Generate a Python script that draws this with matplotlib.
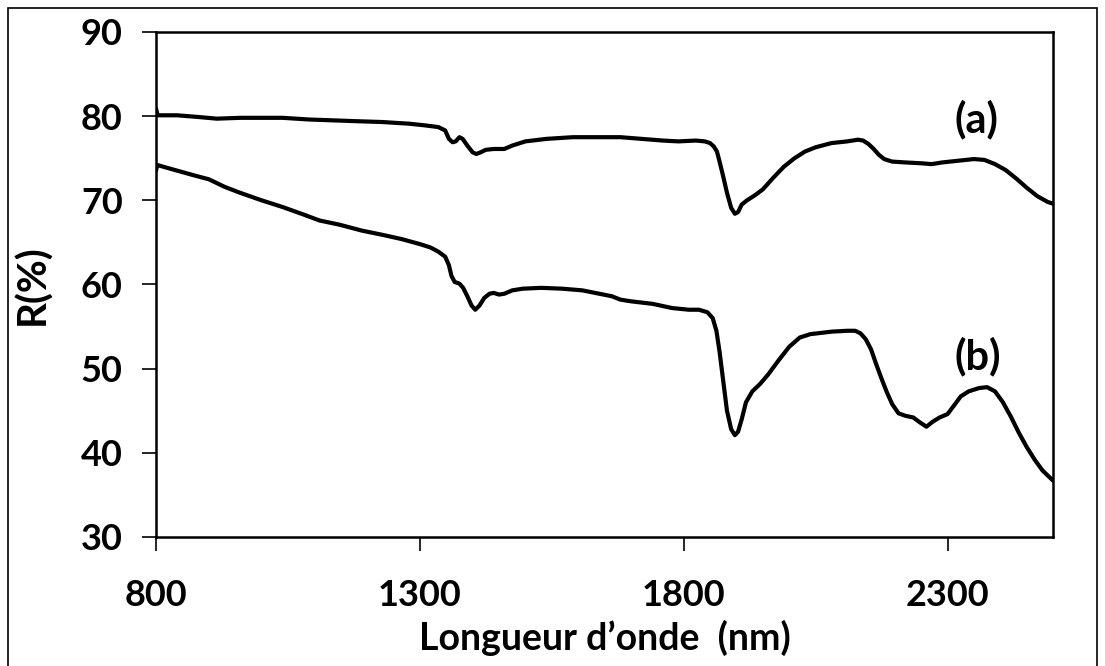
import matplotlib
matplotlib.use("Agg")
import matplotlib.pyplot as plt
from matplotlib.patches import Rectangle

plt.rcParams['font.family'] = ['Lato', 'DejaVu Sans']
plt.rcParams['font.weight'] = 'bold'

# spectrum (a)
wl_a = [800, 803, 840, 880, 915, 960, 1000, 1040, 1090, 1135, 1180, 1229, 1280, 1310,
        1335, 1348, 1355, 1362, 1368, 1375, 1381, 1390, 1400, 1407, 1415, 1425, 1440,
        1460, 1475, 1500, 1540, 1590, 1634, 1680, 1720, 1760, 1790, 1823, 1840, 1850,
        1857, 1863, 1868, 1875, 1882, 1890, 1897, 1903, 1910, 1920, 1935, 1950, 1970,
        1990, 2010, 2030, 2050, 2080, 2110, 2130, 2140, 2150, 2160, 2170, 2180, 2195,
        2220, 2250, 2270, 2290, 2320, 2350, 2370, 2390, 2410, 2430, 2450, 2470, 2490, 2500]
r_a = [80.9, 80.1, 80.1, 79.9, 79.7, 79.8, 79.8, 79.8, 79.6, 79.5, 79.4, 79.3, 79.1, 78.9,
       78.7, 78.3, 77.3, 76.9, 77.0, 77.5, 77.3, 76.5, 75.7, 75.5, 75.7, 76.0, 76.1,
       76.1, 76.5, 77.0, 77.3, 77.5, 77.5, 77.5, 77.3, 77.1, 77.0, 77.1, 77.0, 76.8,
       76.4, 75.8, 74.6, 72.8, 70.9, 69.1, 68.4, 68.6, 69.5, 70.0, 70.6, 71.3, 72.7,
       74.0, 75.0, 75.8, 76.3, 76.8, 77.0, 77.2, 77.1, 76.7, 76.1, 75.4, 74.9, 74.6,
       74.5, 74.4, 74.3, 74.5, 74.7, 74.9, 74.8, 74.3, 73.6, 72.6, 71.5, 70.5, 69.8, 69.6]

# spectrum (b)
wl_b = [800, 802, 830, 870, 900, 930, 959, 1000, 1040, 1080, 1110, 1148, 1190, 1229,
        1265, 1300, 1320, 1335, 1348, 1355, 1360, 1366, 1375, 1382, 1390, 1398, 1405,
        1413, 1422, 1432, 1440, 1450, 1460, 1475, 1495, 1530, 1570, 1608, 1640, 1664,
        1680, 1700, 1741, 1778, 1810, 1829, 1845, 1855, 1862, 1868, 1875, 1882, 1890,
        1897, 1903, 1910, 1918, 1930, 1945, 1960, 1980, 2000, 2020, 2040, 2081, 2110,
        2125, 2135, 2145, 2155, 2165, 2175, 2185, 2195, 2207, 2220, 2235, 2248, 2260,
        2272, 2285, 2300, 2312, 2325, 2340, 2360, 2375, 2390, 2405, 2420, 2435, 2450,
        2465, 2480, 2500]
r_b = [73.5, 74.2, 73.7, 73.0, 72.5, 71.6, 70.9, 70.0, 69.2, 68.3, 67.6, 67.1, 66.4, 65.9,
       65.4, 64.8, 64.4, 63.9, 63.3, 62.3, 61.0, 60.3, 60.1, 59.6, 58.6, 57.5, 57.0,
       57.5, 58.4, 58.9, 59.0, 58.8, 58.9, 59.3, 59.5, 59.6, 59.5, 59.3, 58.9, 58.6,
       58.2, 58.0, 57.7, 57.2, 57.0, 57.0, 56.7, 56.0, 54.5, 52.0, 48.5, 45.0, 42.8,
       42.1, 42.5, 44.0, 46.0, 47.3, 48.2, 49.3, 51.0, 52.6, 53.7, 54.1, 54.4, 54.5,
       54.5, 54.2, 53.5, 52.3, 50.5, 48.8, 47.2, 45.8, 44.7, 44.4, 44.2, 43.6, 43.1,
       43.7, 44.2, 44.6, 45.6, 46.7, 47.3, 47.7, 47.8, 47.3, 46.0, 44.3, 42.4, 40.7,
       39.2, 37.9, 36.7]

x_ticks = [800, 1300, 1800, 2300]
y_ticks = [30, 40, 50, 60, 70, 80, 90]

fig = plt.figure(figsize=(11.05, 6.66), dpi=100)
ax = fig.add_axes([0.1412, 0.1937, 0.8118, 0.7583])

ax.plot(wl_a, r_a, color='black', lw=3, solid_joinstyle='round', solid_capstyle='round')
ax.plot(wl_b, r_b, color='black', lw=3, solid_joinstyle='round', solid_capstyle='round')

ax.text(2355, 79.6, '(a)', fontsize=30, fontweight='bold', ha='center', va='center')
ax.text(2358, 51.4, '(b)', fontsize=30, fontweight='bold', ha='center', va='center')

ax.set_xlim(800, 2500)
ax.set_ylim(30, 90)
ax.set_xticks(x_ticks)
ax.set_yticks(y_ticks)
ax.tick_params(direction='out', length=10, width=1.2, labelsize=26)
ax.tick_params(axis='x', pad=20)
ax.tick_params(axis='y', pad=14)
for lab in ax.get_xticklabels() + ax.get_yticklabels():
    lab.set_fontweight('bold')
for s in ax.spines.values():
    s.set_linewidth(1.8)

ax.set_xlabel('Longueur d\u2019onde  (nm)', fontsize=27, fontweight='bold', labelpad=6)
ax.set_ylabel('R(%)', fontsize=29, fontweight='bold', labelpad=21)

# outer frame of the figure
fig.patches.append(Rectangle((0.007, -0.01), 0.986, 0.998, transform=fig.transFigure,
                             fill=False, edgecolor='black', lw=1.2))

fig.savefig('out.png', dpi=100)
